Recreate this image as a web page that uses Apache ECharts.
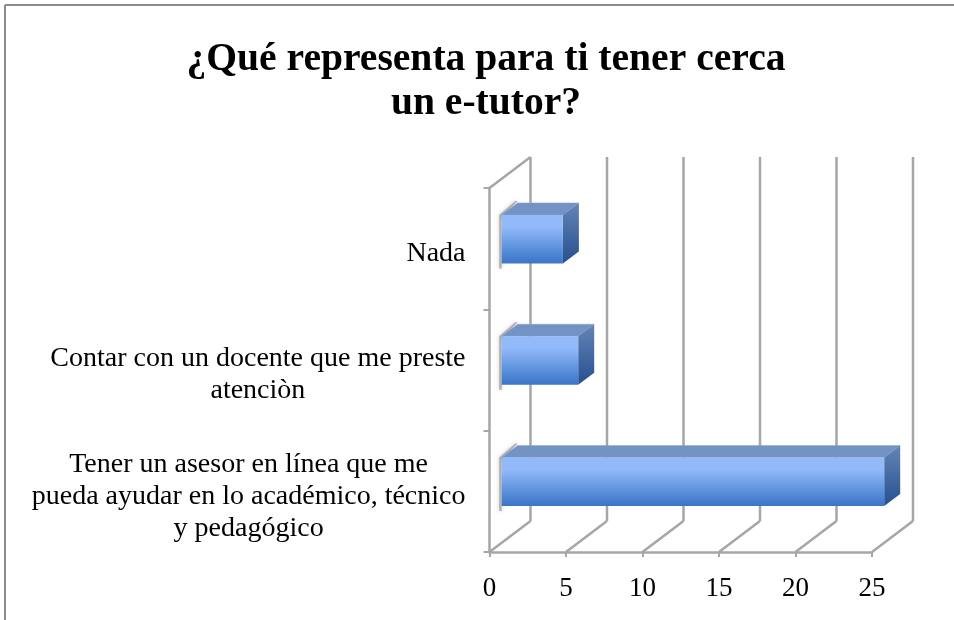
<!DOCTYPE html>
<html>
<head>
<meta charset="utf-8">
<style>html,body{margin:0;padding:0;background:#fff}#chart{width:954px;height:620px}</style>
<script src="https://cdn.jsdelivr.net/npm/echarts@6/dist/echarts.min.js"></script>
</head>
<body>
<div id="chart"></div>
<script>
const categories = [
  'Tener un asesor en línea que me\npueda ayudar en lo académico, técnico\ny pedagógico',
  'Contar con un docente que me preste\natenciòn',
  'Nada'
];
const values = [25, 5, 4];
const xTicks = [0, 5, 10, 15, 20, 25];
const titleText = '¿Qué representa para ti tener cerca\nun e-tutor?';

const FONT = '"Liberation Serif", serif';
const WALL = '#a6a6a6';
// fake 3d: how far the back wall sits from the front axes
const depthX = 41;
const depthY = 31;

const myChart = echarts.init(document.getElementById('chart'));

function renderWall(params, api) {
  const cs = params.coordSys;
  const x = api.coord([api.value(0), 0])[0];
  const bottom = cs.y + cs.height;
  const style = {stroke: WALL, lineWidth: 2.5, fill: 'none'};
  const children = [
    {type: 'line', shape: {x1: x + depthX, y1: cs.y - depthY, x2: x + depthX, y2: bottom - depthY}, style},
    {type: 'line', shape: {x1: x, y1: bottom, x2: x + depthX, y2: bottom - depthY}, style}
  ];
  if (params.dataIndex === 0) {
    children.push({type: 'line', shape: {x1: x, y1: cs.y, x2: x + depthX, y2: cs.y - depthY}, style});
  }
  return {type: 'group', children};
}

function renderBar(params, api) {
  const band = api.size([0, 1])[1];
  const h = band * 0.4;
  const origin = api.coord([0, api.value(1)]);
  const end = api.coord([api.value(0), api.value(1)]);
  // bars sit part way into the depth of the plot
  const left = origin[0] + 12.2;
  const right = end[0] + 12.2;
  const top = origin[1] - 9.5 - h / 2;
  const bottom = top + h;
  const dx = 16;
  const dy = 12;
  return {
    type: 'group',
    children: [
      {
        type: 'polygon',
        shape: {points: [[left - 2.5, top], [left - 2.5 + dx, top - dy - 2], [left + dx, top - dy - 2], [left, top + 3], [left, bottom + 5], [left - 2.5, bottom + 5]]},
        style: {fill: 'rgba(130,130,130,0.55)', shadowBlur: 4, shadowColor: 'rgba(90,90,90,0.6)'}
      },
      {
        type: 'polygon',
        shape: {points: [[left, top], [left + dx, top - dy], [right + dx, top - dy], [right, top]]},
        style: {fill: '#7393c4', stroke: '#8ba4cc', lineWidth: 0.5}
      },
      {
        type: 'polygon',
        shape: {points: [[right, top], [right + dx, top - dy], [right + dx, bottom - dy], [right, bottom]]},
        style: {
          fill: new echarts.graphic.LinearGradient(0, 0, 0, 1, [
            {offset: 0, color: '#6484b6'},
            {offset: 1, color: '#26508f'}
          ])
        }
      },
      {
        type: 'rect',
        shape: {x: left, y: top, width: right - left, height: h},
        style: {
          fill: new echarts.graphic.LinearGradient(0, 0, 0, 1, [
            {offset: 0, color: '#93b9f8'},
            {offset: 0.25, color: '#92b9f9'},
            {offset: 0.7, color: '#5a90dc'},
            {offset: 1, color: '#3b75c7'}
          ])
        }
      }
    ]
  };
}

const option = {
  animation: false,
  backgroundColor: '#fff',
  title: {
    text: titleText,
    left: 481,
    top: 33,
    textAlign: 'center',
    textStyle: {fontFamily: FONT, fontWeight: 'bold', fontSize: 39.6, lineHeight: 44, color: '#000'}
  },
  graphic: [
    {type: 'line', shape: {x1: 5, y1: 5, x2: 954, y2: 5}, style: {stroke: '#8c8c8c', lineWidth: 2}},
    {type: 'line', shape: {x1: 5, y1: 5, x2: 5, y2: 620}, style: {stroke: '#8c8c8c', lineWidth: 2}}
  ],
  grid: {left: 489.5, top: 188, width: 382.5, height: 364},
  xAxis: {
    type: 'value',
    min: 0,
    max: 25,
    interval: 5,
    axisLine: {show: true, lineStyle: {color: WALL, width: 2.5}},
    axisTick: {show: true, length: 5, lineStyle: {color: WALL, width: 2}},
    splitLine: {show: false},
    axisLabel: {margin: 23, fontFamily: FONT, fontSize: 27, color: '#000'}
  },
  yAxis: {
    type: 'category',
    data: categories,
    axisLine: {show: true, lineStyle: {color: WALL, width: 2.5}},
    axisTick: {show: true, length: 6, lineStyle: {color: WALL, width: 2}},
    axisLabel: {
      margin: 24,
      align: 'right',
      interval: 0,
      padding: [10, 0, 0, 0],
      formatter: v => v.split('\n').map(s => '{c|' + s + '}').join('\n'),
      rich: {c: {align: 'center', fontFamily: FONT, fontSize: 28, lineHeight: 32, color: '#000'}}
    }
  },
  series: [
    {
      type: 'custom',
      name: 'walls',
      z: 1,
      silent: true,
      renderItem: renderWall,
      encode: {x: 0},
      data: xTicks.map(t => [t])
    },
    {
      type: 'custom',
      name: 'e-tutor',
      z: 3,
      renderItem: renderBar,
      encode: {x: 0, y: 1},
      data: values.map((v, i) => [v, i])
    }
  ]
};

myChart.setOption(option);
</script>
</body>
</html>
